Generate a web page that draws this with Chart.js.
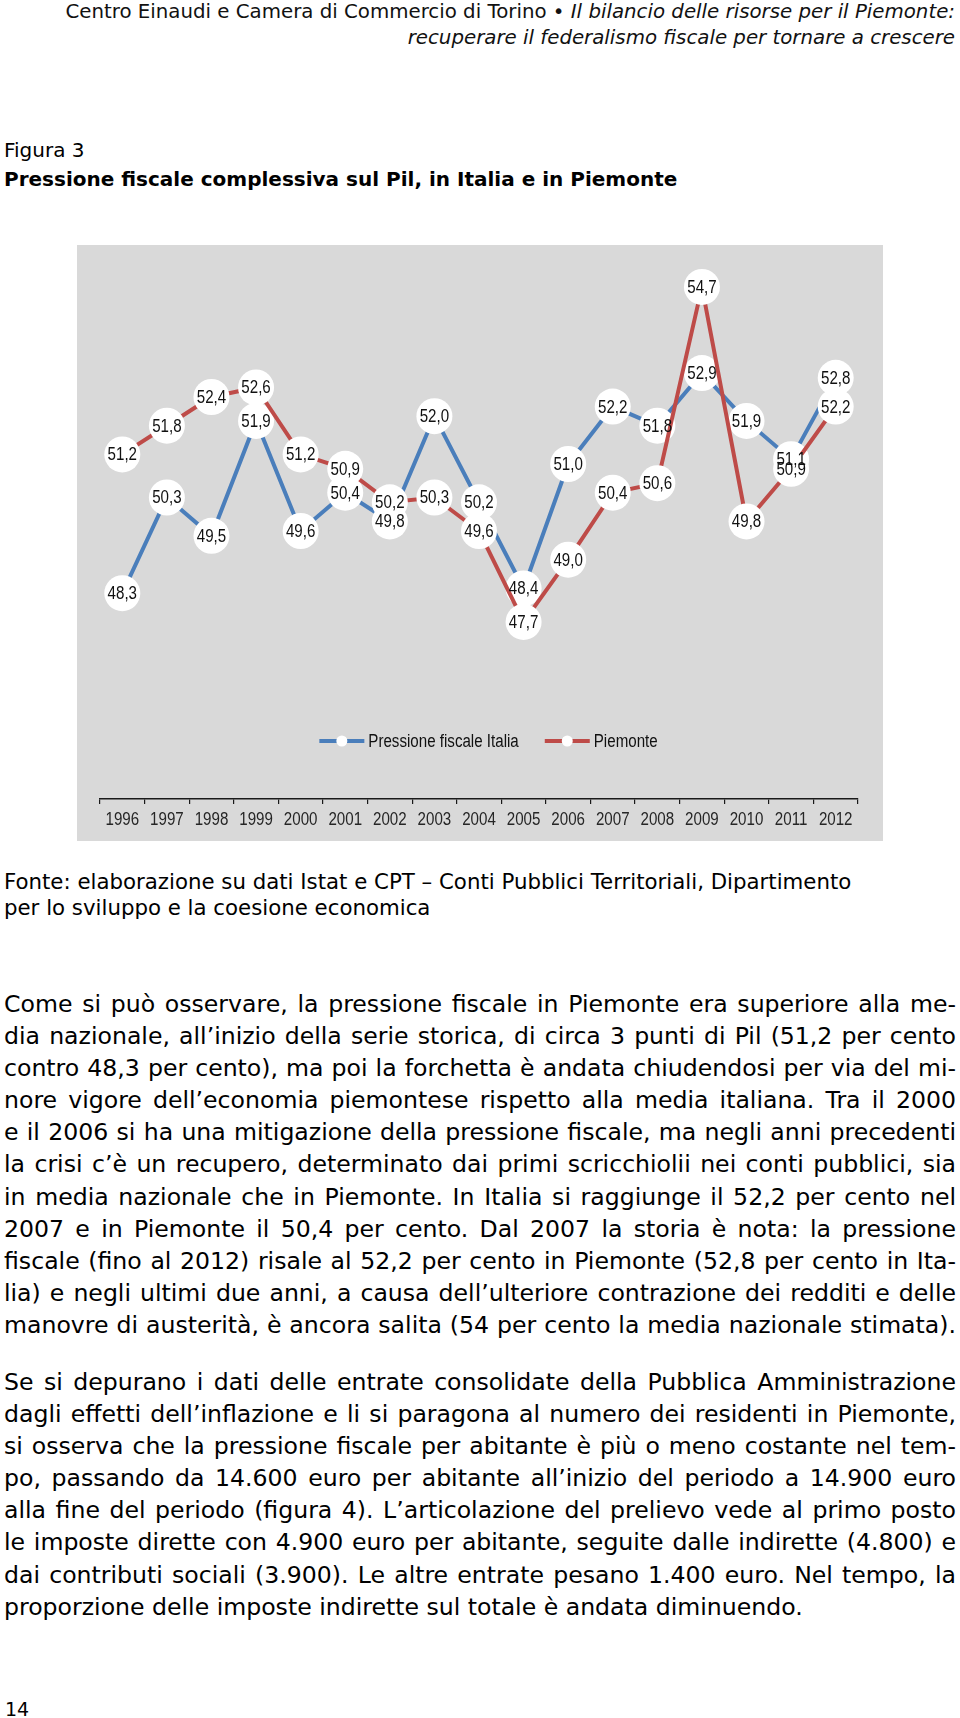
<!DOCTYPE html>
<html lang="it">
<head>
<meta charset="utf-8">
<title>Pressione fiscale complessiva sul Pil, in Italia e in Piemonte</title>
<script src="https://cdn.jsdelivr.net/npm/chart.js@4.4.1/dist/chart.umd.min.js"></script>
<style>
  html, body { margin: 0; padding: 0; background: #fff; }
  body { width: 960px; height: 1718px; position: relative; overflow: hidden;
         font-family: "DejaVu Sans", Verdana, sans-serif; color: #000; }
  .abs { position: absolute; }
  .hdr { right: 5px; top: -1px; text-align: right; font-size: 19.8px; line-height: 25.5px; color: #111; white-space: nowrap; }
  .fig { left: 4px; top: 137px; font-size: 20px; line-height: 26px; }
  .ttl { left: 4px; top: 166px; font-size: 20px; line-height: 26px; font-weight: bold; white-space: nowrap; }
  .src { left: 4px; top: 869px; font-size: 21.3px; line-height: 25.5px; white-space: nowrap; }
  .body { left: 4px; width: 952px; font-size: 23.6px; }
  .body div { height: 32.1px; line-height: 32.1px; text-align: justify; text-align-last: justify; white-space: nowrap; }
  .body div.last { text-align-last: left; }
  .page { left: 5px; top: 1697px; font-size: 19px; line-height: 24px; }
  #box { left: 77px; top: 245px; width: 806px; height: 596px; background: #d9d9d9; }
</style>
</head>
<body>
<div class="abs hdr">Centro Einaudi e Camera di Commercio di Torino &bull; <i>Il bilancio delle risorse per il Piemonte:</i><br><i>recuperare il federalismo fiscale per tornare a crescere</i></div>
<div class="abs fig">Figura 3</div>
<div class="abs ttl">Pressione fiscale complessiva sul Pil, in Italia e in Piemonte</div>

<div class="abs" id="box"><canvas id="chart" width="806" height="596"></canvas></div>

<div class="abs src">Fonte: elaborazione su dati Istat e CPT – Conti Pubblici Territoriali, Dipartimento<br>per lo sviluppo e la coesione economica</div>

<div class="abs body" style="top:988px">
<div>Come si può osservare, la pressione fiscale in Piemonte era superiore alla me-</div>
<div>dia nazionale, all’inizio della serie storica, di circa 3 punti di Pil (51,2 per cento</div>
<div>contro 48,3 per cento), ma poi la forchetta è andata chiudendosi per via del mi-</div>
<div>nore vigore dell’economia piemontese rispetto alla media italiana. Tra il 2000</div>
<div>e il 2006 si ha una mitigazione della pressione fiscale, ma negli anni precedenti</div>
<div>la crisi c’è un recupero, determinato dai primi scricchiolii nei conti pubblici, sia</div>
<div>in media nazionale che in Piemonte. In Italia si raggiunge il 52,2 per cento nel</div>
<div>2007 e in Piemonte il 50,4 per cento. Dal 2007 la storia è nota: la pressione</div>
<div>fiscale (fino al 2012) risale al 52,2 per cento in Piemonte (52,8 per cento in Ita-</div>
<div>lia) e negli ultimi due anni, a causa dell’ulteriore contrazione dei redditi e delle</div>
<div>manovre di austerità, è ancora salita (54 per cento la media nazionale stimata).</div>
</div>

<div class="abs body" style="top:1366px">
<div>Se si depurano i dati delle entrate consolidate della Pubblica Amministrazione</div>
<div>dagli effetti dell’inflazione e li si paragona al numero dei residenti in Piemonte,</div>
<div>si osserva che la pressione fiscale per abitante è più o meno costante nel tem-</div>
<div>po, passando da 14.600 euro per abitante all’inizio del periodo a 14.900 euro</div>
<div>alla fine del periodo (figura 4). L’articolazione del prelievo vede al primo posto</div>
<div>le imposte dirette con 4.900 euro per abitante, seguite dalle indirette (4.800) e</div>
<div>dai contributi sociali (3.900). Le altre entrate pesano 1.400 euro. Nel tempo, la</div>
<div class="last">proporzione delle imposte indirette sul totale è andata diminuendo.</div>
</div>

<div class="abs page">14</div>

<script>
// ---- Data ----
const years = ["1996","1997","1998","1999","2000","2001","2002","2003","2004","2005","2006","2007","2008","2009","2010","2011","2012"];
const italia = [48.3, 50.3, 49.5, 51.9, 49.6, 50.4, 49.8, 52.0, 50.2, 48.4, 51.0, 52.2, 51.8, 52.9, 51.9, 51.1, 52.8];
const piemonte = [51.2, 51.8, 52.4, 52.6, 51.2, 50.9, 50.2, 50.3, 49.6, 47.7, 49.0, 50.4, 50.6, 54.7, 49.8, 50.9, 52.2];
const seriesNames = ["Pressione fiscale Italia", "Piemonte"];
const seriesColors = ["#4a7ebb", "#be4b48"];

const SANS = '"Liberation Sans", Arial, sans-serif';
const SQUEEZE = 0.84; // narrow look of the original chart font

function fmt(v) { return v.toFixed(1).replace('.', ','); }

function narrowText(ctx, text, x, y, align) {
  ctx.save();
  ctx.translate(x, y);
  ctx.scale(SQUEEZE, 1);
  ctx.textAlign = align;
  ctx.fillText(text, 0, 0);
  ctx.restore();
}

// Value labels drawn inside the white circles, above all datasets
const valueLabels = {
  id: 'valueLabels',
  afterDatasetsDraw(chart) {
    const ctx = chart.ctx;
    ctx.save();
    ctx.font = '18px ' + SANS;
    ctx.fillStyle = '#111';
    ctx.textBaseline = 'middle';
    chart.data.datasets.forEach((ds, i) => {
      const meta = chart.getDatasetMeta(i);
      meta.data.forEach((pt, j) => {
        narrowText(ctx, fmt(ds.data[j]), pt.x, pt.y + 1, 'center');
      });
    });
    ctx.restore();
  }
};

// Category labels under the axis, placed with the x scale
const yearLabels = {
  id: 'yearLabels',
  afterDraw(chart) {
    const ctx = chart.ctx;
    const xs = chart.scales.x;
    ctx.save();
    ctx.font = '18px ' + SANS;
    ctx.fillStyle = '#262626';
    ctx.textBaseline = 'middle';
    chart.data.labels.forEach((lab, i) => {
      narrowText(ctx, lab, xs.getPixelForValue(i), xs.top + 21, 'center');
    });
    ctx.restore();
  }
};

// Legend drawn inside the plot, just above the axis
const innerLegend = {
  id: 'innerLegend',
  afterDraw(chart) {
    const ctx = chart.ctx;
    const area = chart.chartArea;
    ctx.save();
    ctx.font = '18px ' + SANS;
    const lineW = 45, gapTxt = 4, gapItem = 26;
    const items = chart.data.datasets.map(ds => ({ label: ds.label, color: ds.borderColor, w: ctx.measureText(ds.label).width * SQUEEZE }));
    let total = 0;
    items.forEach((it, k) => { total += lineW + gapTxt + it.w + (k ? gapItem : 0); });
    let x = (area.left + area.right) / 2 - total / 2 + 9.5;
    const y = area.bottom - 58;
    items.forEach((it, k) => {
      if (k) x += gapItem;
      ctx.strokeStyle = it.color;
      ctx.lineWidth = 4;
      ctx.beginPath(); ctx.moveTo(x, y); ctx.lineTo(x + lineW, y); ctx.stroke();
      ctx.fillStyle = '#fff';
      ctx.beginPath(); ctx.arc(x + lineW / 2, y, 5.5, 0, Math.PI * 2); ctx.fill();
      ctx.fillStyle = '#111';
      ctx.textBaseline = 'middle';
      narrowText(ctx, it.label, x + lineW + gapTxt, y + 1, 'left');
      x += lineW + gapTxt + it.w;
    });
    ctx.restore();
  }
};

function makeDataset(name, values, color, order) {
  return {
    label: name,
    data: values,
    borderColor: color,
    backgroundColor: color,
    borderWidth: 4,
    tension: 0,
    pointRadius: 18,
    pointHoverRadius: 18,
    pointBackgroundColor: '#ffffff',
    pointBorderColor: '#ffffff',
    pointBorderWidth: 0,
    order: order
  };
}

new Chart(document.getElementById('chart'), {
  type: 'line',
  data: {
    labels: years,
    datasets: [
      makeDataset(seriesNames[0], italia, seriesColors[0], 1),
      makeDataset(seriesNames[1], piemonte, seriesColors[1], 0)
    ]
  },
  options: {
    responsive: false,
    animation: false,
    events: [],
    layout: { padding: { top: 12, left: 23, right: 25, bottom: 0 } },
    plugins: { legend: { display: false }, tooltip: { enabled: false } },
    scales: {
      y: { display: false, min: 44, max: 55.2 },
      x: {
        offset: true,
        afterFit: (scale) => { scale.height = 42; },
        border: { display: true, color: '#1a1a1a', width: 1.5 },
        grid: { display: true, offset: true, drawOnChartArea: false, drawTicks: true, tickLength: 5, color: '#1a1a1a', lineWidth: 1.2 },
        ticks: { display: false, autoSkip: false }
      }
    }
  },
  plugins: [valueLabels, yearLabels, innerLegend]
});
</script>
</body>
</html>
